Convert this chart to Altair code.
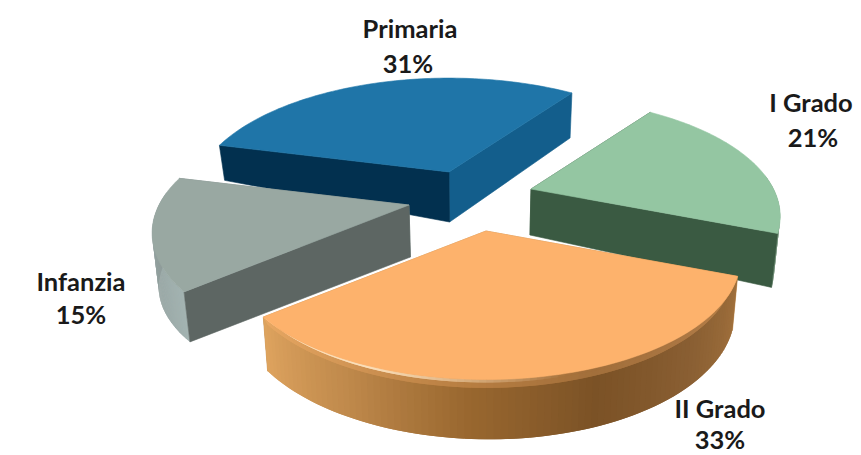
import math
import altair as alt
import pandas as pd

# ---- chart values
CATEGORIES = ["Primaria", "I Grado", "II Grado", "Infanzia"]
VALUES = [31, 21, 33, 15]
START_ANGLE = -75.9  # degrees, clockwise from the back of the pie

# ---- styling / layout
TOP = ["#1f75a8", "#94c6a2", "#fdb26c", "#99a8a2"]
WALL_START = ["#02304f", "#3a5a42", "#c08a4c", "#5d6663"]
WALL_END = ["#135e8c", "#3a5a42", "#c08a4c", "#7d8a88"]
RIM_STOPS = [
    ["#135e8c", "#135e8c"],
    ["#8ca78f", "#7f9c86"],
    ["#a0703c", "#8a5f33", "#7b5226", "#99672f", "#c08a4c", "#dfa45f"],
    ["#a3b3b1", "#929f9d", "#8a9896"],
]
APEX = [(449, 172), (531, 189), (486, 231), (409, 205)]
SCALE = [1.0, 0.97, 0.99, 1.0]
DEPTH_APEX = [50, 46, 55, 52]
DEPTH_RIM = [(35, 45), (44, 54), (54, 54), (50, 58)]
DEPTH_BUMP = [0, 0, 6, 0]
FRONT_WALL = ["both", "end", "none", "start"]
PAINT_ORDER = [0, 1, 3, 2]
RX, RY, PERSP = 250, 115.5, 0.23
SHRINK, CX = 0.02, 480
LABEL_ANCHORS = [((410, 30), (408, 65)), ((811, 104), (813, 139)),
                 ((720, 410), (720, 441)), ((81, 283), (81, 316))]


def hex2rgb(c):
    return [int(c[i:i + 2], 16) for i in (1, 3, 5)]


def mix(a, b, t):
    ra, rb = hex2rgb(a), hex2rgb(b)
    return "#%02x%02x%02x" % tuple(round(p + (q - p) * t) for p, q in zip(ra, rb))


def ramp(stops, t):
    if len(stops) == 1:
        return stops[0]
    p = t * (len(stops) - 1)
    i = min(int(p), len(stops) - 2)
    return mix(stops[i], stops[i + 1], p - i)


def project(k, deg, r=1.0):
    a = math.radians(deg)
    X, Y = r * math.sin(a), r * math.cos(a)
    w = 1 + PERSP * Y
    ax, ay = APEX[k]
    return ax + SCALE[k] * RX * X / w, ay - SCALE[k] * RY * Y / w, Y


def drop(x, y, d):
    return x + (CX - x) * SHRINK, y + d


rows = []
poly_id = [0]
idx = [0]


def add_poly(points, color, sw=0.6):
    poly_id[0] += 1
    for px, py in list(points) + [points[0]]:
        rows.append({"px": px, "py": py, "pid": poly_id[0], "i": idx[0], "col": color, "sw": sw})
        idx[0] += 1


# slice angle ranges from the values
spans = []
a0 = START_ANGLE
for v in VALUES:
    a1 = a0 + v / sum(VALUES) * 360
    spans.append((a0, a1))
    a0 = a1

for k in PAINT_ORDER:
    a0, a1 = spans[k]
    ax, ay = APEX[k]
    n = 90
    angles = [a0 + (a1 - a0) * j / n for j in range(n + 1)]
    d0, d1 = DEPTH_RIM[k]

    def rim_depth(j):
        return d0 + (d1 - d0) * j / n + DEPTH_BUMP[k] * math.sin(math.pi * j / n)

    apex_low = drop(ax, ay, DEPTH_APEX[k])
    sx, sy, _ = project(k, a0)
    ex, ey, _ = project(k, a1)
    start_wall = ([(ax, ay), (sx, sy), drop(sx, sy, d0), apex_low], WALL_START[k])
    end_wall = ([(ax, ay), (ex, ey), drop(ex, ey, d1), apex_low], WALL_END[k])
    front = FRONT_WALL[k]

    # hidden walls first
    if front in ("start", "none", "both"):
        add_poly(*end_wall)
    if front in ("end", "none", "both"):
        add_poly(*start_wall)
    # rim strips, each overlapping the next so no seams show
    for j in range(n):
        x1, y1, Y1 = project(k, angles[j])
        x2, y2, Y2 = project(k, angles[min(j + 2, n)])
        if (Y1 + Y2) / 2 > 0.12:
            continue
        base = ramp(RIM_STOPS[k], j / n)
        lo1, lo2 = rim_depth(j), rim_depth(min(j + 2, n))
        add_poly([(x1, y1), (x2, y2), drop(x2, y2, lo2), drop(x1, y1, lo1)], base, 0)
    if k == 2:
        # rounded bevel just under the top edge
        for j in range(n):
            x1, y1, _ = project(k, angles[j])
            x2, y2, _ = project(k, angles[min(j + 2, n)])
            lo1, lo2 = rim_depth(j), rim_depth(min(j + 2, n))
            base = ramp(RIM_STOPS[k], j / n)
            add_poly([(x1, y1), (x2, y2), drop(x2, y2, lo2 * 0.14), drop(x1, y1, lo1 * 0.14)],
                     mix(base, TOP[k], 0.3), 0)
        for j in range(n):
            x1, y1, _ = project(k, angles[j])
            x2, y2, _ = project(k, angles[min(j + 2, n)])
            lo1, lo2 = rim_depth(j), rim_depth(min(j + 2, n))
            base = ramp(RIM_STOPS[k], j / n)
            t = max(0.0, min(1.0, (j / n - 0.45) / 0.3))
            add_poly([(x1, y1), (x2, y2), drop(x2, y2, lo2 * 0.05), drop(x1, y1, lo1 * 0.05)],
                     mix(mix(base, TOP[k], 0.3), "#ffe6c4", 0.9 * t), 0)
    # the wall that faces the viewer
    if front == "start":
        add_poly(*start_wall)
    if front == "end":
        add_poly(*end_wall)
    # top face
    pts = [(ax, ay)] + [project(k, a)[:2] for a in angles]
    add_poly(pts, TOP[k])

shapes = pd.DataFrame(rows)

labels = []
for k, name in enumerate(CATEGORIES):
    (x1, y1), (x2, y2) = LABEL_ANCHORS[k]
    labels.append({"lx": x1, "ly": y1, "t": name})
    labels.append({"lx": x2, "ly": y2, "t": f"{VALUES[k]}%"})
labels = pd.DataFrame(labels)

XS = alt.Scale(domain=[8, 853], nice=False, zero=False)
YS = alt.Scale(domain=[455, 8], nice=False, zero=False)

pie = alt.Chart(shapes).mark_line(interpolate="linear", clip=False).encode(
    x=alt.X("px:Q", scale=XS, axis=None),
    y=alt.Y("py:Q", scale=YS, axis=None),
    detail="pid:N",
    order=alt.Order("i:Q"),
    fill=alt.Fill("col:N", scale=None),
    stroke=alt.Stroke("col:N", scale=None),
    strokeWidth=alt.StrokeWidth("sw:Q", scale=None),
)

text = alt.Chart(labels).mark_text(
    font="Lato", fontWeight="bold", fontSize=25.5, color="#1a1a1a", align="center", baseline="middle"
).encode(
    x=alt.X("lx:Q", scale=XS, axis=None),
    y=alt.Y("ly:Q", scale=YS, axis=None),
    text="t:N",
)

chart = alt.layer(pie, text).properties(
    width=845, height=447, padding=0, autosize=alt.AutoSizeParams(type="none"), background="white"
).configure_view(stroke=None)

chart.save("out.html", embed_options={"renderer": "svg", "actions": False})
